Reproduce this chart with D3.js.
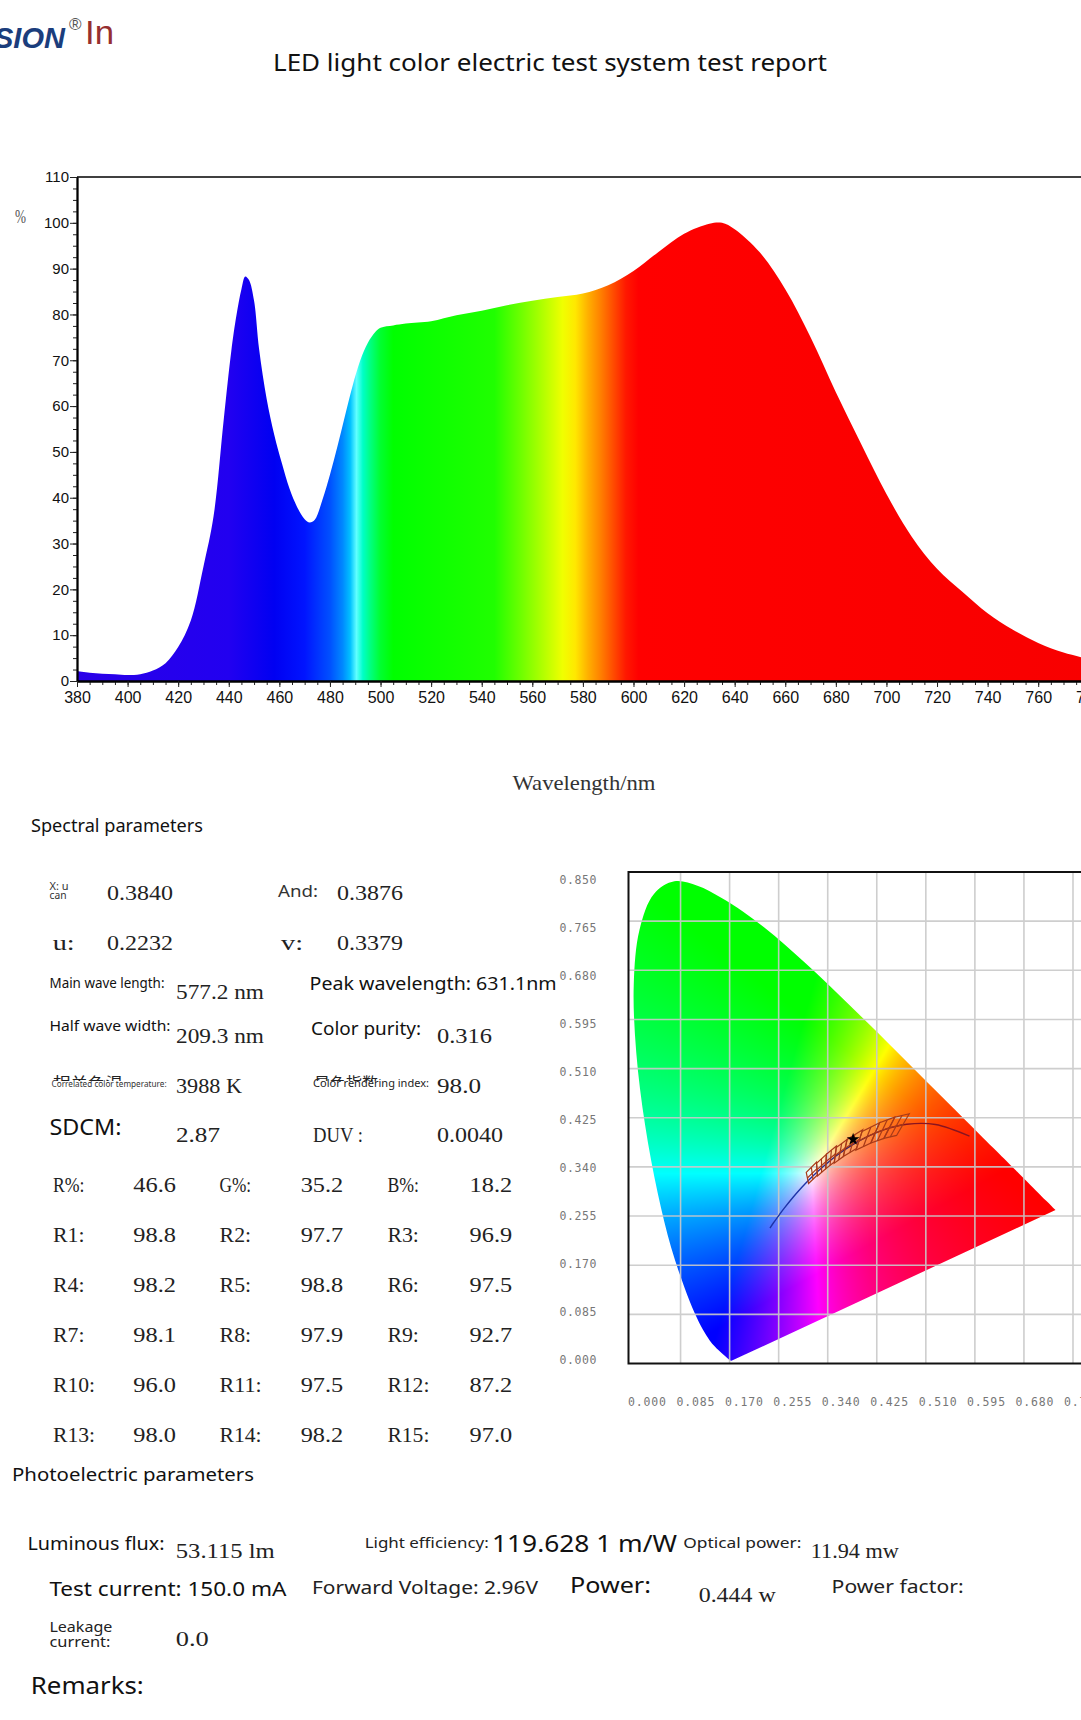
<!DOCTYPE html>
<html>
<head>
<meta charset="utf-8">
<script src="https://cdn.jsdelivr.net/npm/d3@7"></script>
<style>
  body { margin: 0; background: #fff; }
  svg { display: block; }
</style>
</head>
<body>
<svg id="page" width="1081" height="1720"></svg>
<script>
// ---- spectrum (relative intensity %) ----
const specWl = [380, 385, 390, 395, 400, 405, 410, 415, 420, 425, 430, 434, 438, 441, 443, 445, 446.5, 448, 450,
  452, 455, 458, 461, 464, 467, 470, 472, 474, 477, 480, 483, 486, 489, 492, 495, 498, 500, 505, 510, 520,
  530, 540, 550, 560, 570, 580, 590, 600, 610, 620, 630, 635, 640, 650, 660, 670, 680, 690, 700, 710, 720,
  730, 740, 750, 760, 770, 780];
const specVal = [2.2, 1.8, 1.6, 1.5, 1.3, 1.5, 2.3, 3.9, 7.4, 13.2, 25, 36, 57, 72, 79.7, 85.5, 88.3, 87.5, 83,
  72.4, 61.5, 53.7, 47.5, 42, 38, 35.3, 34.6, 35.2, 39.5, 45, 51.3, 58, 64.5, 70, 73.8, 76.2, 77.1, 77.6, 78, 78.5,
  79.8, 80.8, 82, 83, 83.8, 84.6, 86.4, 89.5, 93.7, 97.6, 99.8, 100, 98.6, 93.5, 85.5, 75, 63, 51.7, 40.8, 31.5, 24.5,
  19.5, 14.8, 11.2, 8.3, 6.2, 4.8];

// colour of the fill at each wavelength
const gradWl = [380, 440, 458, 470, 480, 485, 488, 490.5, 493, 496, 500, 505, 545, 555, 565, 572, 577, 582, 587,
  592, 597, 602, 780];
const gradCol = ["#2a00e8", "#2200f0", "#0000f2", "#0014ff", "#0050ff", "#0088ff", "#00c0ff", "#60ffff", "#00ffc8",
  "#00ff80", "#00ff30", "#00ff00", "#20ff00", "#6aff00", "#b8ff00", "#f0ff00", "#ffe800", "#ffb000", "#ff8000",
  "#ff4c00", "#ff1800", "#ff0000", "#f80000"];

const yMajor = d3.range(0, 111, 10);
const yMinor = d3.range(0, 110.1, 2.5);
const xMajor = d3.range(380, 781, 20);
const xMinor = d3.range(380, 781, 5);

// ---- CIE 1931 chromaticity ----
const locusWl = [380, 400, 420, 430, 440, 450, 455, 460, 465, 470, 475, 480, 485, 490, 495, 500, 505, 510,
  515, 520, 525, 530, 535, 540, 545, 550, 555, 560, 565, 570, 575, 580, 585, 590, 595, 600, 610, 620, 630,
  640, 650, 660, 680, 700];
const locusX = [0.1741, 0.1733, 0.1714, 0.1689, 0.1644, 0.1566, 0.1510, 0.1440, 0.1355, 0.1241, 0.1096, 0.0913,
  0.0687, 0.0454, 0.0235, 0.0082, 0.0039, 0.0139, 0.0389, 0.0743, 0.1142, 0.1547, 0.1929, 0.2296, 0.2658, 0.3016,
  0.3373, 0.3731, 0.4087, 0.4441, 0.4788, 0.5125, 0.5448, 0.5752, 0.6029, 0.6270, 0.6658, 0.6915, 0.7079, 0.7190,
  0.7260, 0.7300, 0.7334, 0.7347];
const locusY = [0.0050, 0.0048, 0.0051, 0.0069, 0.0109, 0.0177, 0.0227, 0.0297, 0.0399, 0.0578, 0.0868, 0.1327,
  0.2007, 0.2950, 0.4127, 0.5384, 0.6548, 0.7502, 0.8120, 0.8338, 0.8262, 0.8059, 0.7816, 0.7543, 0.7243, 0.6923,
  0.6589, 0.6245, 0.5896, 0.5547, 0.5202, 0.4866, 0.4544, 0.4242, 0.3965, 0.3725, 0.3340, 0.3083, 0.2920, 0.2809,
  0.2740, 0.2700, 0.2666, 0.2653];

const planckT = [1500, 2000, 2500, 3000, 3500, 4000, 4500, 5000, 6000, 7000, 8000, 10000, 15000, 20000, 40000, 100000];
const planckX = [0.5857, 0.5267, 0.4770, 0.4369, 0.4053, 0.3805, 0.3608, 0.3451, 0.3221, 0.3064, 0.2952, 0.2807,
  0.2637, 0.2565, 0.2461, 0.2399];
const planckY = [0.3931, 0.4133, 0.4137, 0.4041, 0.3907, 0.3768, 0.3636, 0.3516, 0.3318, 0.3166, 0.3048, 0.2883,
  0.2673, 0.2577, 0.2434, 0.2342];

// ANSI quadrangles, corners (x, y)
const ansiBins = [
  [[0.4813, 0.4319], [0.4562, 0.4260], [0.4373, 0.3893], [0.4593, 0.3944]],
  [[0.4562, 0.4260], [0.4299, 0.4165], [0.4147, 0.3814], [0.4373, 0.3893]],
  [[0.4299, 0.4165], [0.3996, 0.4015], [0.3889, 0.3690], [0.4147, 0.3814]],
  [[0.4006, 0.4044], [0.3736, 0.3874], [0.3670, 0.3578], [0.3898, 0.3716]],
  [[0.3736, 0.3874], [0.3548, 0.3736], [0.3512, 0.3465], [0.3670, 0.3578]],
  [[0.3551, 0.3760], [0.3376, 0.3616], [0.3366, 0.3369], [0.3515, 0.3487]],
  [[0.3376, 0.3616], [0.3207, 0.3462], [0.3222, 0.3243], [0.3366, 0.3369]],
  [[0.3205, 0.3481], [0.3028, 0.3304], [0.3068, 0.3113], [0.3221, 0.3261]]
];
const measured = [0.3840, 0.3876];
const cieTicks = d3.range(0, 10).map((i) => +(i * 0.085).toFixed(3)).concat([0.85]);

// ---- parameter table ----
const criLabels = [["R%:", "G%:", "B%:"], ["R1:", "R2:", "R3:"], ["R4:", "R5:", "R6:"],
  ["R7:", "R8:", "R9:"], ["R10:", "R11:", "R12:"], ["R13:", "R14:", "R15:"]];
const criValues = [[46.6, 35.2, 18.2], [98.8, 97.7, 96.9], [98.2, 98.8, 97.5],
  [98.1, 97.9, 92.7], [96.0, 97.5, 87.2], [98.0, 98.2, 97.0]];

const SANS = "'Noto Sans', 'Open Sans', sans-serif";
const SERIF = "'Liberation Serif', 'DejaVu Serif', serif";
const ARIAL = "'Liberation Sans', Arial, sans-serif";
const CJK = "'Noto Sans CJK SC', sans-serif";

const svg = d3.select("#page");
const defs = svg.append("defs");

function label(x, y, str, size, width, opts = {}) {
  const t = svg.append("text")
    .attr("x", x).attr("y", y)
    .attr("font-family", opts.family || SANS)
    .attr("font-size", size)
    .attr("fill", opts.fill || "#111")
    .text(str);
  if (width) t.attr("textLength", width).attr("lengthAdjust", "spacingAndGlyphs");
  if (opts.anchor) t.attr("text-anchor", opts.anchor);
  return t;
}
// half-width serif, like the report software's font
function simsun(x, y, str, size = 22) {
  return label(x, y, str, size, str.length * size / 2, { family: SERIF, fill: "#222" });
}
// chinese caption mostly hidden under its english one (as in the scan): only its top shows
function ghost(id, x, y, str, width) {
  defs.append("clipPath").attr("id", id)
    .append("rect").attr("x", x).attr("y", y - 14).attr("width", width).attr("height", 7);
  label(x, y, str, 15, width, { family: CJK, fill: "#222" })
    .attr("clip-path", `url(#${id})`);
}

// ---- header ----
svg.append("text").attr("x", -6).attr("y", 48)
  .attr("font-family", ARIAL).attr("font-weight", "bold").attr("font-style", "italic")
  .attr("font-size", 29).attr("fill", "#1b3d7c").text("SION");
label(69, 30, "®", 17, null, { family: ARIAL, fill: "#555" });
label(85, 44, "In", 34, 29, { family: ARIAL, fill: "#962f30" }).attr("font-weight", 300);
label(550, 71, "LED light color electric test system test report", 23, 554, { anchor: "middle" });

// ---- spectrum chart ----
const x = d3.scaleLinear().domain([380, 780]).range([77, 1088.8]);
const y = d3.scaleLinear().domain([0, 110]).range([681, 177]);

const grad = defs.append("linearGradient").attr("id", "specGrad")
  .attr("gradientUnits", "userSpaceOnUse")
  .attr("x1", x(380)).attr("x2", x(780)).attr("y1", 0).attr("y2", 0);
gradWl.forEach((w, i) => {
  grad.append("stop").attr("offset", (w - 380) / 400).attr("stop-color", gradCol[i]);
});

const spectrum = specWl.map((w, i) => ({ w, v: specVal[i] }));
const area = d3.area()
  .x((d) => x(d.w))
  .y0(y(0))
  .y1((d) => y(d.v))
  .curve(d3.curveCatmullRom.alpha(0.5));

svg.append("path").attr("d", area(spectrum)).attr("fill", "url(#specGrad)");

// frame: top border
svg.append("line")
  .attr("x1", x(380)).attr("x2", 1081).attr("y1", y(110)).attr("y2", y(110))
  .attr("stroke", "#000").attr("stroke-width", 1.6);

const styleAxis = (g) => {
  g.select(".domain").attr("stroke", "#000").attr("stroke-width", 1.8);
  g.selectAll(".tick line").attr("stroke", "#222");
};

svg.append("g").attr("transform", `translate(${x(380)},0)`)
  .call(d3.axisLeft(y).tickValues(yMinor).tickSize(4).tickSizeOuter(0).tickFormat(""))
  .call(styleAxis);
svg.append("g").attr("transform", `translate(${x(380)},0)`)
  .call(d3.axisLeft(y).tickValues(yMajor).tickSize(7).tickSizeOuter(0).tickPadding(1))
  .call(styleAxis)
  .call((g) => g.selectAll("text").attr("font-family", ARIAL).attr("font-size", 15).attr("fill", "#111"));

svg.append("g").attr("transform", `translate(0,${y(0)})`)
  .call(d3.axisBottom(x).tickValues(xMinor).tickSize(4).tickSizeOuter(0).tickFormat(""))
  .call(styleAxis);
svg.append("g").attr("transform", `translate(0,${y(0)})`)
  .call(d3.axisBottom(x).tickValues(xMajor).tickSize(6).tickSizeOuter(0).tickPadding(5))
  .call(styleAxis)
  .call((g) => g.selectAll("text").attr("font-family", ARIAL).attr("font-size", 16).attr("fill", "#111"));

label(15, 223, "%", 18, 11, { family: SERIF, fill: "#555" });
label(584, 790, "Wavelength/nm", 22, 143, { family: SERIF, fill: "#333", anchor: "middle" });

// ---- chromaticity diagram ----
const cx = d3.scaleLinear().domain([0, 0.765]).range([631.5, 1073]);
const cy = d3.scaleLinear().domain([0, 0.85]).range([1363.5, 872]);
const xLab = d3.scaleLinear().domain([0, 0.68]).range([647, 1034.5]);
const yLab = d3.scaleLinear().domain([0, 0.85]).range([1359.5, 879.5]);

const locus = locusWl.map((w, i) => [locusX[i], locusY[i]]);
const locusLine = d3.line().x((d) => cx(d[0])).y((d) => cy(d[1])).curve(d3.curveCatmullRom);

defs.append("clipPath").attr("id", "horseshoe")
  .append("path").attr("d", locusLine(locus) + "Z");

// colour every pixel of the box by its chromaticity
const boxX0 = cx(0) - 3, boxY0 = cy(0.85);
const W = Math.ceil(1081 - boxX0), H = Math.ceil(cy(0) - boxY0);
const canvas = document.createElement("canvas");
canvas.width = W; canvas.height = H;
const ctx = canvas.getContext("2d");
const img = ctx.createImageData(W, H);
for (let j = 0; j < H; j++) {
  const yv = Math.max(cy.invert(boxY0 + j + 0.5), 0.002);
  for (let i = 0; i < W; i++) {
    const xv = Math.max(cx.invert(boxX0 + i + 0.5), 0.001);
    const X = xv / yv, Z = (1 - xv - yv) / yv;
    const r = Math.max(3.2406 * X - 1.5372 - 0.4986 * Z, 0);
    const g = Math.max(-0.9689 * X + 1.8758 + 0.0415 * Z, 0);
    const b = Math.max(0.0557 * X - 0.2040 + 1.0570 * Z, 0);
    const m = Math.max(r, g, b) || 1;
    const k = (j * W + i) * 4;
    img.data[k] = 255 * r / m;
    img.data[k + 1] = 255 * g / m;
    img.data[k + 2] = 255 * b / m;
    img.data[k + 3] = 255;
  }
}
ctx.putImageData(img, 0, 0);
svg.append("image")
  .attr("href", canvas.toDataURL())
  .attr("x", boxX0).attr("y", boxY0).attr("width", W).attr("height", H)
  .attr("clip-path", "url(#horseshoe)");

// grid
const gridG = svg.append("g").attr("stroke", "#c9c9c9").attr("stroke-width", 1.6).attr("opacity", 0.9);
gridG.selectAll(".gx").data(cieTicks.filter((t) => t > 0 && t < 0.8)).join("line")
  .attr("x1", (d) => cx(d)).attr("x2", (d) => cx(d))
  .attr("y1", cy(0.85)).attr("y2", cy(0));
gridG.selectAll(".gy").data(cieTicks.filter((t) => t > 0 && t < 0.85)).join("line")
  .attr("x1", boxX0).attr("x2", 1081)
  .attr("y1", (d) => cy(d)).attr("y2", (d) => cy(d));

// planckian locus
const pGrad = defs.append("linearGradient").attr("id", "planckGrad")
  .attr("gradientUnits", "userSpaceOnUse")
  .attr("x1", cx(0.24)).attr("x2", cx(0.59)).attr("y1", 0).attr("y2", 0);
[[0, "#1d33a8"], [0.18, "#1d33a8"], [0.4, "#402060"], [0.55, "#8a1420"], [1, "#8a1420"]]
  .forEach(([o, c]) => pGrad.append("stop").attr("offset", o).attr("stop-color", c));
const planck = planckT.map((t, i) => [planckX[i], planckY[i]]);
svg.append("path")
  .attr("d", locusLine(planck))
  .attr("fill", "none").attr("stroke", "url(#planckGrad)").attr("stroke-width", 1.4);

// ANSI bins, each split into four
const quadLine = d3.line().x((d) => cx(d[0])).y((d) => cy(d[1]));
const mid = (a, b) => [(a[0] + b[0]) / 2, (a[1] + b[1]) / 2];
const binG = svg.append("g").attr("fill", "none").attr("stroke", "#a83a18").attr("stroke-width", 1.2);
ansiBins.forEach((c) => {
  binG.append("path").attr("d", quadLine(c) + "Z");
  binG.append("path").attr("d", quadLine([mid(c[0], c[1]), mid(c[2], c[3])]));
  binG.append("path").attr("d", quadLine([mid(c[1], c[2]), mid(c[3], c[0])]));
});

svg.append("path")
  .attr("d", d3.symbol(d3.symbolStar, 50)())
  .attr("transform", `translate(${cx(measured[0])},${cy(measured[1])})`)
  .attr("fill", "#000");

// box
svg.append("rect")
  .attr("x", boxX0).attr("y", cy(0.85))
  .attr("width", 1095 - boxX0).attr("height", cy(0) - cy(0.85))
  .attr("fill", "none").attr("stroke", "#111").attr("stroke-width", 2);

const cieFmt = d3.format(".3f");
svg.append("g").selectAll("text").data(cieTicks).join("text")
  .attr("x", 578).attr("y", (d) => yLab(d) + 4)
  .attr("text-anchor", "middle")
  .attr("font-family", "'DejaVu Sans Mono', monospace").attr("font-size", 11.5).attr("fill", "#777")
  .attr("textLength", 37).attr("lengthAdjust", "spacing")
  .text(cieFmt);
svg.append("g").selectAll("text").data(cieTicks.filter((t) => t < 0.8)).join("text")
  .attr("x", (d) => xLab(d)).attr("y", 1406)
  .attr("text-anchor", "middle")
  .attr("font-family", "'DejaVu Sans Mono', monospace").attr("font-size", 11.5).attr("fill", "#777")
  .attr("textLength", 38).attr("lengthAdjust", "spacing")
  .text(cieFmt);

// ---- spectral parameters ----
label(31, 832, "Spectral parameters", 18, 172);

label(49.5, 890, "X: u", 10, 19, { fill: "#333" });
label(49.5, 899, "can", 10, 17, { fill: "#333" });
simsun(107, 900, "0.3840");
label(278, 897, "And:", 17, 40, { fill: "#333" });
simsun(337, 900, "0.3876");

simsun(52.7, 950, "u:");
simsun(107, 950, "0.2232");
simsun(281, 950, "v:");
simsun(337, 950, "0.3379");

label(49.5, 988, "Main wave length:", 13.5, 115);
simsun(176, 999, "577.2 nm");
label(309.6, 990, "Peak wavelength: 631.1nm", 18.5, 247);

label(49.5, 1031, "Half wave width:", 15, 121);
simsun(176, 1043, "209.3 nm");
label(311, 1035, "Color purity:", 18, 110);
simsun(437, 1043, "0.316");

ghost("g1", 53, 1088, "相关色温", 70);
ghost("g2", 314, 1088, "显色指数", 64);
label(51.6, 1087, "Correlated color temperature:", 9, 115, { fill: "#333" });
simsun(176, 1093, "3988 K");
label(313, 1087, "Color rendering index:", 11, 116, { fill: "#222" });
simsun(437, 1093, "98.0");

label(49.4, 1135, "SDCM:", 21, 72);
simsun(176, 1142, "2.87");
simsun(313, 1142, "DUV :", 20);
simsun(437, 1142, "0.0040");

const labelCols = [53, 219.6, 387.4];
const valueCols = [133.3, 300.7, 469.6];
criLabels.forEach((row, r) => {
  const yy = 1191.7 + r * 50;
  row.forEach((lab, c) => {
    simsun(labelCols[c], yy, lab, 21);
    simsun(valueCols[c], yy, criValues[r][c].toFixed(1), 21.3);
  });
});

// ---- photoelectric parameters ----
label(12, 1481, "Photoelectric parameters", 18.5, 242);

label(27.5, 1550, "Luminous flux:", 17.5, 137);
simsun(175.8, 1558, "53.115 lm");
label(364.7, 1548, "Light efficiency:", 14.5, 124, { fill: "#222" });
label(492, 1552, "119.628 1 m/W", 24, 185);
label(683.3, 1548, "Optical power:", 14.5, 118, { fill: "#222" });
simsun(810.8, 1558, "11.94 mw");

label(49.4, 1596, "Test current: 150.0 mA", 19, 237);
label(312, 1594, "Forward Voltage: 2.96V", 17.5, 226, { fill: "#222" });
label(570, 1593, "Power:", 21, 81);
simsun(698.7, 1602, "0.444 w");
label(831.6, 1593, "Power factor:", 18, 132, { fill: "#222" });

label(49.4, 1632, "Leakage", 13.5, 63, { fill: "#222" });
label(49.4, 1647, "current:", 13.5, 61, { fill: "#222" });
simsun(175.8, 1646, "0.0");

label(30.8, 1694, "Remarks:", 24, 113);
</script>
</body>
</html>
